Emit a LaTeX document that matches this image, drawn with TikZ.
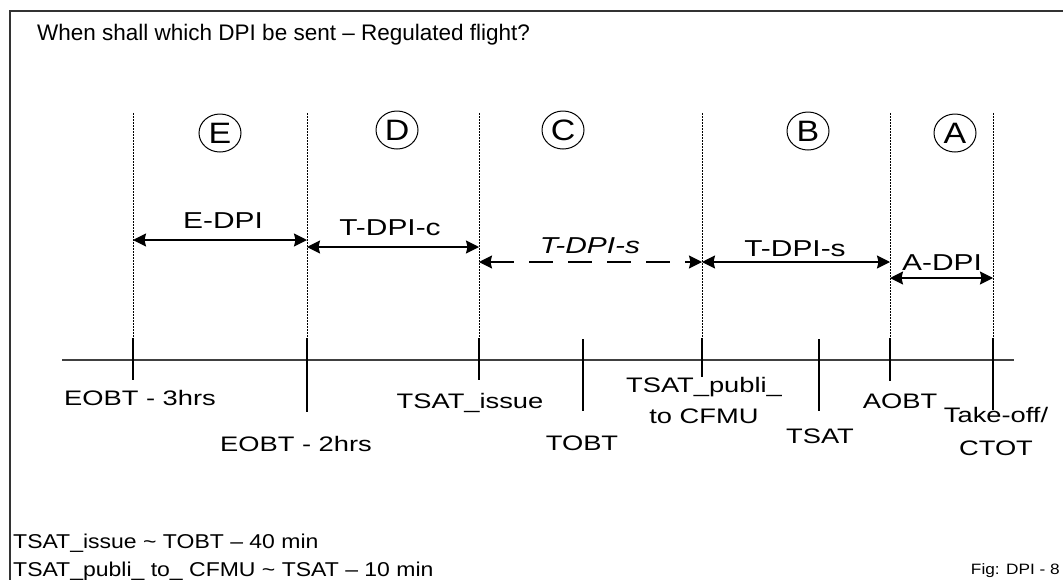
\documentclass[tikz,border=0pt]{standalone}
\usepackage{fontspec}
\setmainfont{Liberation Sans}
\newfontfamily\widefont[FakeStretch=1.3]{Liberation Sans}
\newfontfamily\notefont[FakeStretch=1.15]{Liberation Sans}
\newfontfamily\circfont[FakeStretch=1.15]{Liberation Sans}
\usetikzlibrary{arrows.meta,shapes.geometric}
\begin{document}
\begin{tikzpicture}[x=1pt,y=-1pt,
  lbl/.style={font=\widefont\fontsize{21}{31}\selectfont, inner sep=0pt, anchor=base, align=center},
  albl/.style={font=\widefont\fontsize{23}{28}\selectfont, inner sep=0pt, anchor=base},
  note/.style={font=\notefont\fontsize{20}{24}\selectfont, inner sep=0pt, anchor=base west},
  circ/.style={draw, ellipse, minimum width=42pt, minimum height=38pt, inner sep=0pt, line width=1pt, font=\circfont\fontsize{29.5}{29.5}\selectfont},
  guide/.style={line width=0.9pt, dash pattern=on 1.5pt off 1.5pt},
  tick/.style={line width=1.3pt},
  span/.style={line width=1.5pt, {Stealth[length=13pt,width=13pt,inset=1.5pt]}-{Stealth[length=13pt,width=13pt,inset=1.5pt]}},
  dspan/.style={span, dash pattern=on 24pt off 15pt}]
\useasboundingbox (0,0) rectangle (1063,579);
\clip (0,0) rectangle (1063,579);
\draw[line width=1.5pt, draw=black!80] (10,11) rectangle (1090,600);
\node[font=\fontsize{22.5}{27}\selectfont, inner sep=0pt, anchor=base west] (title) at (37,40) {When shall which DPI be sent – Regulated flight?};
% axis
\coordinate (axL) at (62,360);
\coordinate (axR) at (1014,360);
\draw[line width=1.1pt, draw=black!75] (axL) -- (axR);
% guide tops and tick tops
\foreach \n/\x in {e/133, d/307, c/479, b/702, a/890, f/993}{
  \coordinate (g\n) at (\x,113);
  \coordinate (k\n) at (\x,338);
  \draw[guide] (g\n) -- (k\n);
}
\coordinate (kb1) at (133,380);
\coordinate (kb2) at (307,412);
\coordinate (kb3) at (479,380);
\coordinate (kb5) at (702,377);
\coordinate (kb7) at (890,381);
\coordinate (kb8) at (993,410);
\coordinate (kt4) at (583,339);
\coordinate (kb4) at (583,411);
\coordinate (kt6) at (819,339);
\coordinate (kb6) at (819,411);
\draw[tick] (ke) -- (kb1);
\draw[tick] (kd) -- (kb2);
\draw[tick] (kc) -- (kb3);
\draw[tick] (kt4) -- (kb4);
\draw[tick] (kb) -- (kb5);
\draw[tick] (kt6) -- (kb6);
\draw[tick] (ka) -- (kb7);
\draw[tick] (kf) -- (kb8);
% circles
\node[circ] (cE) at (220,133) {E};
\node[circ] (cD) at (397,130) {D};
\node[circ] (cC) at (563,130) {C};
\node[circ] (cB) at (808,131) {B};
\node[circ] (cA) at (955,133) {A};
% spans
\coordinate (s1a) at (133,240); \coordinate (s1b) at (307,240);
\coordinate (s2a) at (307,247); \coordinate (s2b) at (479,247);
\coordinate (s3a) at (479,262); \coordinate (s3b) at (702,262);
\coordinate (s4a) at (702,262); \coordinate (s4b) at (890,262);
\coordinate (s5a) at (890,278); \coordinate (s5b) at (993,278);
\draw[span] (s1a) -- (s1b);
\draw[span] (s2a) -- (s2b);
\draw[dspan] (s3a) -- (s3b);
\draw[span] (s4a) -- (s4b);
\draw[span] (s5a) -- (s5b);
\node[albl] (lE) at (223,228) {E-DPI};
\node[albl] (lD) at (390,235) {T-DPI-c};
\node[albl] (lC) at (590,253) {\itshape T-DPI-s};
\node[albl] (lB) at (795,256) {T-DPI-s};
\node[albl] (lA) at (942,270) {A-DPI};
% tick labels
\node[lbl] (t1) at (140,405) {EOBT - 3hrs};
\node[lbl] (t2) at (296,451) {EOBT - 2hrs};
\node[lbl] (t3) at (470,408) {TSAT\_issue};
\node[lbl] (t4) at (582,450) {TOBT};
\node[lbl] (t5) at (704,423) {TSAT\_publi\_\\to CFMU};
\node[lbl] (t6) at (820,443) {TSAT};
\node[lbl] (t7) at (900,408) {AOBT};
\node[lbl] (t8) at (996,455) {Take-off/\\[2pt]CTOT};
% notes
\node[note] (n1) at (13,548) {TSAT\_issue \textasciitilde{} TOBT – 40 min};
\node[note] (n2) at (13,576) {TSAT\_publi\_ to\_ CFMU \textasciitilde{} TSAT – 10 min};
\node[font=\notefont\fontsize{15}{17}\selectfont, inner sep=0pt, anchor=base east] (fig) at (1060,574) {Fig: DPI - 8};
\end{tikzpicture}
\end{document}
